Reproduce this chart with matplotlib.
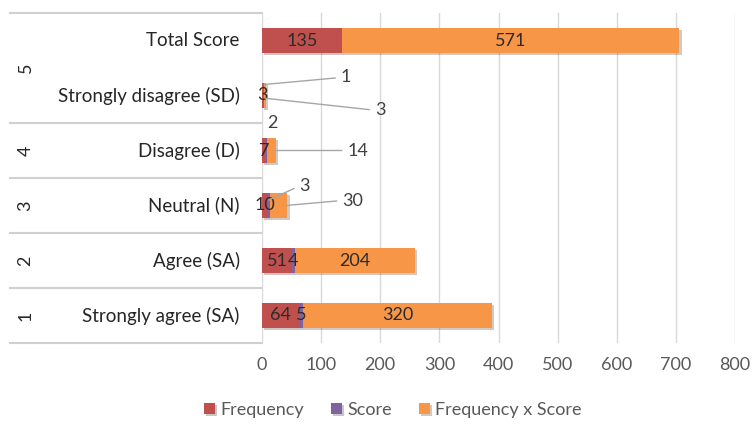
import matplotlib
matplotlib.use("Agg")
import matplotlib.pyplot as plt
import matplotlib.patheffects as pe
import numpy as np

plt.rcParams['font.family'] = ['Lato', 'DejaVu Sans']

# Categories from bottom to top
categories = ["Strongly agree (SA)", "Agree (SA)", "Neutral (N)",
              "Disagree (D)", "Strongly disagree (SD)", "Total Score"]
groups = ["1", "2", "3", "4", "5"]
frequency = [64, 51, 10, 7, 3, 135]
score = [5, 4, 3, 2, 1, 0]
freq_x_score = [320, 204, 30, 14, 3, 571]
xticks = [0, 100, 200, 300, 400, 500, 600, 700, 800]

c_freq = "#C0504D"
c_score = "#8064A2"
c_fxs = "#F79646"
txt = "#404040"
fs = 13

fig = plt.figure(figsize=(7.53, 4.24), dpi=100)
ax = fig.add_axes([262 / 753, 81 / 424, 473 / 753, 330 / 424])

y = np.arange(len(categories))
freq = np.array(frequency, float)
sc = np.array(score, float)
fx = np.array(freq_x_score, float)

shadow = [pe.SimplePatchShadow(offset=(1.5, -1.5), alpha=0.25), pe.Normal()]
h = 0.44
b1 = ax.barh(y, freq, height=h, color=c_freq, label="Frequency", zorder=3)
b2 = ax.barh(y, sc, left=freq, height=h, color=c_score, label="Score", zorder=3)
b3 = ax.barh(y, fx, left=freq + sc, height=h, color=c_fxs,
             label="Frequency x Score", zorder=3)
for bars in (b1, b2, b3):
    for p in bars:
        p.set_path_effects(shadow)

ax.set_xlim(0, 800)
ax.set_ylim(-0.5, 5.5)
ax.set_xticks(xticks)
ax.set_xticklabels([str(t) for t in xticks], fontsize=fs, color="#595959")
ax.set_yticks([])
ax.tick_params(axis="x", length=0, pad=10)
ax.grid(axis="x", color="#d9d9d9", linewidth=1, zorder=0)
for s in ax.spines.values():
    s.set_visible(False)

# Labels centred inside the segments
def inside(xc, yc, val):
    ax.text(xc, yc, str(val), ha="center", va="center", fontsize=fs,
            color="#2b2b2b", zorder=5)

for i in [0, 1, 5]:
    inside(freq[i] / 2, y[i], frequency[i])
    if score[i]:
        inside(freq[i] + sc[i] / 2, y[i], score[i])
    inside(freq[i] + sc[i] + fx[i] / 2, y[i], freq_x_score[i])
for i in [2, 3, 4]:
    inside(freq[i] / 2, y[i], frequency[i])

# Small segments: labels pulled out with leader lines
def callout(xv, yv, val, dx, dy, line=True):
    kw = {}
    if line:
        kw["arrowprops"] = dict(arrowstyle="-", color="#a6a6a6", lw=1,
                                relpos=(0, 0.5), shrinkA=2, shrinkB=0)
    ax.annotate(str(val), xy=(xv, yv), xytext=(dx, dy),
                textcoords="offset pixels", ha="center", va="center",
                fontsize=fs, color=txt, zorder=6, **kw)

# Strongly disagree
callout(freq[4] + 0.5, 4.2, score[4], 82, 7)
callout(freq[4] + sc[4] + 1.5, 3.95, freq_x_score[4], 115, -12)
# Disagree
callout(freq[3] + 1, 3, score[3], 6, 28, line=False)
callout(20, 3, freq_x_score[3], 84, 0)
# Neutral
callout(freq[2] + 1.5, 2.1, score[2], 36, 14)
callout(40, 2, freq_x_score[2], 67, 5)

# Two-level category axis on the left
yt = ax.get_yaxis_transform()
for i, c in enumerate(categories):
    ax.text(-0.047, y[i], c, transform=yt, ha="right", va="center",
            fontsize=13.5, color="#262626")
group_pos = [0, 1, 2, 3, 4.5]
for g, gy in zip(groups, group_pos):
    ax.text(-0.50, gy, g, transform=yt, ha="center", va="center",
            fontsize=fs, color="#262626", rotation=90)
for by in [5.5, 3.5, 2.5, 1.5, 0.5, -0.5]:
    ax.plot([-0.533, 0], [by, by], transform=yt, color="#d0d0d0",
            lw=1.5, clip_on=False, zorder=1)

fig.legend(handles=[b1, b2, b3], loc="center", bbox_to_anchor=(393 / 753, 1 - 410 / 424),
           ncol=3, frameon=False, fontsize=fs, handlelength=0.6,
           handleheight=0.6, handletextpad=0.3, columnspacing=1.5,
           labelcolor="#595959")

fig.savefig("out.png", dpi=100, facecolor="white")
